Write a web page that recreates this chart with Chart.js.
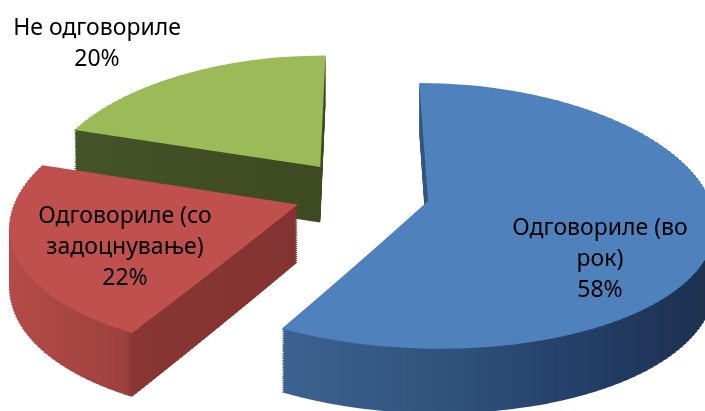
<!DOCTYPE html>
<html><head><meta charset="utf-8">
<script src="https://cdn.jsdelivr.net/npm/chart.js@4.4.1/dist/chart.umd.min.js"></script>
<style>html,body{margin:0;padding:0;background:#fff;overflow:hidden}</style>
</head><body>
<canvas id="c" width="705" height="411"></canvas>
<script>
const categories = ['Одговориле (во рок)', 'Одговориле (со задоцнување)', 'Не одговориле'];
const labelLines = [['Одговориле (во', 'рок)'], ['Одговориле (со', 'задоцнување)'], ['Не одговориле']];
const percentages = [58, 22, 20];
const topColors = ['#4F81BD', '#C0504D', '#9BBB59'];
// side shading stops: [screen x, colour]
const sideStops = [
  [[285, '#3c6291'], [450, '#30527c'], [570, '#25406a'], [705, '#1d3050']],
  [[10, '#b34b48'], [126, '#9d413e'], [133, '#893634'], [300, '#833331']],
  [[80, '#45532a'], [330, '#3d4a21']]
];

// perspective / layout parameters (screen space)
const P = { Xc: 361, Yc: 193, kx: 2.8, ky: 1.294, b: 0.00112, gamma: 1.3, depth: 57, band: 3, W: 705 };
const explode = [24.5, 24, 25.5];
const labelPos = [[600, 235], [125, 223], [97, 35]];
const LINE_H = 31;
const FONT = '23px "Noto Sans", "DejaVu Sans", sans-serif';

function Yof(v, d) { return P.Yc + (P.ky * v + d) / (1 - P.b * v); }

const pie3d = {
  id: 'pie3d',
  beforeDatasetsDraw(chart) {
    const ctx = chart.ctx;
    const meta = chart.getDatasetMeta(0);
    const ox = meta.data[0].x, oy = meta.data[0].y;

    function drawArc(arc, i, d, isTop) {
      const R = arc.outerRadius;
      const half = (arc.startAngle + arc.endAngle) / 2;
      const ex = Math.cos(half) * explode[i], ey = Math.sin(half) * explode[i];
      const saved = arc.options;
      const Ytop = Yof(ey - R, d), Ybot = Yof(ey + R, d);
      for (let Y0 = Math.floor(Ytop) - 1; Y0 < Ybot + 1; Y0 += P.band) {
        const Ym = Y0 + P.band / 2;
        const vm = (Ym - P.Yc - d) / (P.ky + P.b * (Ym - P.Yc));
        const p = 1 / (1 - P.b * vm);
        const sxl = P.kx * Math.pow(p, P.gamma);
        const syl = (P.ky + P.b * d) * p * p;
        let fill;
        if (isTop) {
          fill = topColors[i];
        } else {
          const st = sideStops[i];
          const X0 = st[0][0], X1 = st[st.length - 1][0];
          const xu = X => ox - ex + (X - P.Xc) / sxl;
          fill = ctx.createLinearGradient(xu(X0), 0, xu(X1), 0);
          st.forEach(s => fill.addColorStop((s[0] - X0) / (X1 - X0), s[1]));
        }
        arc.options = Object.assign({}, saved, { backgroundColor: fill, borderWidth: 0, offset: 0 });
        ctx.save();
        ctx.beginPath();
        ctx.rect(0, Y0, P.W, P.band);
        ctx.clip();
        ctx.translate(P.Xc, Ym);
        ctx.scale(sxl, syl);
        ctx.translate(-ox + ex, -oy + ey - vm);
        arc.draw(ctx);
        ctx.restore();
      }
      arc.options = saved;
    }

    for (let d = P.depth; d >= 1; d -= 2) {
      meta.data.forEach((arc, i) => drawArc(arc, i, d, false));
    }
    meta.data.forEach((arc, i) => drawArc(arc, i, 0, true));
    return false;
  },
  afterDraw(chart) {
    const ctx = chart.ctx;
    ctx.save();
    ctx.font = FONT;
    ctx.fillStyle = '#000';
    ctx.textAlign = 'center';
    ctx.textBaseline = 'alphabetic';
    labelLines.forEach((lines, i) => {
      const all = lines.concat([percentages[i] + '%']);
      all.forEach((t, j) => ctx.fillText(t, labelPos[i][0], labelPos[i][1] + j * LINE_H));
    });
    ctx.restore();
  }
};

new Chart(document.getElementById('c'), {
  type: 'pie',
  data: {
    labels: categories,
    datasets: [{
      data: percentages,
      backgroundColor: topColors,
      borderWidth: 0
    }]
  },
  options: {
    responsive: false,
    devicePixelRatio: 1,
    animation: false,
    events: [],
    radius: 100,
    rotation: 0,
    layout: { padding: 0 },
    plugins: { legend: { display: false }, tooltip: { enabled: false } }
  },
  plugins: [pie3d]
});
</script>
</body></html>
